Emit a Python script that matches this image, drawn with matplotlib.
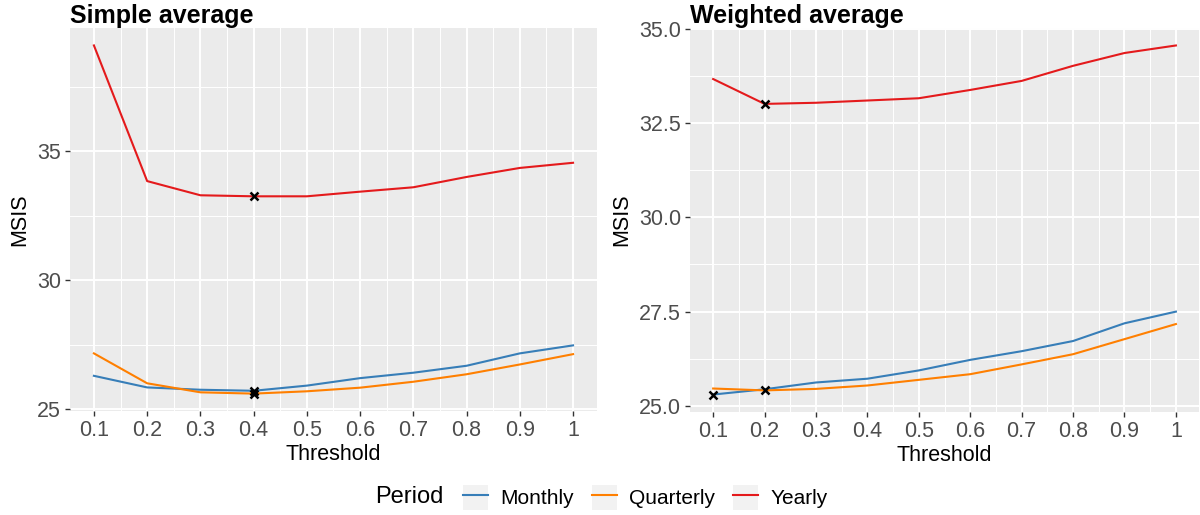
import numpy as np
import matplotlib.pyplot as plt
from matplotlib.patches import Rectangle
from matplotlib.lines import Line2D
from matplotlib.ticker import FixedLocator, FuncFormatter

plt.rcParams["font.family"] = ["Liberation Sans", "DejaVu Sans"]

threshold = [0.1, 0.2, 0.3, 0.4, 0.5, 0.6, 0.7, 0.8, 0.9, 1.0]

# Simple average
simple_monthly = [26.30, 25.85, 25.76, 25.72, 25.92, 26.21, 26.42, 26.69, 27.17, 27.48]
simple_quarterly = [27.17, 26.01, 25.66, 25.61, 25.70, 25.84, 26.07, 26.36, 26.74, 27.14]
simple_yearly = [39.11, 33.85, 33.30, 33.26, 33.26, 33.44, 33.61, 34.01, 34.36, 34.56]

# Weighted average
weighted_monthly = [25.30, 25.44, 25.62, 25.72, 25.94, 26.22, 26.45, 26.72, 27.19, 27.50]
weighted_quarterly = [25.46, 25.41, 25.45, 25.54, 25.69, 25.84, 26.10, 26.37, 26.77, 27.17]
weighted_yearly = [33.67, 33.01, 33.04, 33.10, 33.16, 33.38, 33.62, 34.02, 34.36, 34.56]

periods = ["Monthly", "Quarterly", "Yearly"]
colors = {"Monthly": "#377EB8", "Quarterly": "#FF7F00", "Yearly": "#E41A1C"}

panels = [
    ("Simple average", {"Monthly": simple_monthly, "Quarterly": simple_quarterly, "Yearly": simple_yearly},
     [25, 30, 35], [27.5, 32.5, 37.5], lambda v, p: f"{v:g}"),
    ("Weighted average", {"Monthly": weighted_monthly, "Quarterly": weighted_quarterly, "Yearly": weighted_yearly},
     [25, 27.5, 30, 32.5, 35], [26.25, 28.75, 31.25, 33.75], lambda v, p: f"{v:.1f}"),
]

fig = plt.figure(figsize=(12, 5.15), dpi=100)
ax_pos = [[0.0583, 0.2019, 0.4392, 0.7437], [0.575, 0.2, 0.4242, 0.7456]]

for (title, series, majors, minors, fmt), pos in zip(panels, ax_pos):
    ax = fig.add_axes(pos)
    ax.set_facecolor("#EBEBEB")
    for name in periods:
        vals = series[name]
        ax.plot(threshold, vals, color=colors[name], lw=1.5, zorder=3)
        i = int(np.argmin(vals))
        ax.plot(threshold[i], vals[i], marker="x", color="black", ms=6, mew=1.8, ls="none", zorder=4)
    ax.margins(x=0.05, y=0.05)
    ax.xaxis.set_major_locator(FixedLocator(threshold))
    ax.xaxis.set_minor_locator(FixedLocator([t + 0.05 for t in threshold[:-1]]))
    ax.xaxis.set_major_formatter(FuncFormatter(lambda v, p: f"{v:g}"))
    ax.yaxis.set_major_locator(FixedLocator(majors))
    ax.yaxis.set_minor_locator(FixedLocator(minors))
    ax.yaxis.set_major_formatter(FuncFormatter(fmt))
    ax.grid(which="major", color="white", lw=1.4)
    ax.grid(which="minor", color="white", lw=0.7)
    ax.set_axisbelow(True)
    for s in ax.spines.values():
        s.set_visible(False)
    ax.tick_params(which="major", length=3.5, width=1, color="#333333", labelsize=15.5,
                   labelcolor="#4D4D4D", pad=3)
    ax.tick_params(which="minor", length=0)
    ax.set_xlabel("Threshold", fontsize=15.5, labelpad=2)
    ax.set_ylabel("MSIS", fontsize=15.5, labelpad=5)
    ax.set_title(title, loc="left", fontsize=18, fontweight="bold", pad=3)

handles = []
for name in periods:
    bg = Rectangle((0, 0), 1, 1, facecolor="#F2F2F2", edgecolor="none")
    ln = Line2D([], [], color=colors[name], lw=1.5)
    handles.append((bg, ln))

fig.text(0.3125, 0.034, "Period", fontsize=17, va="center", ha="left")
fig.legend(handles, periods, loc="center left", bbox_to_anchor=(0.377, 0.034), ncol=3,
           frameon=False, fontsize=15, handlelength=1.2, handleheight=1.5,
           handletextpad=0.6, columnspacing=0.85, borderpad=0)

plt.savefig("out.png", dpi=100)
